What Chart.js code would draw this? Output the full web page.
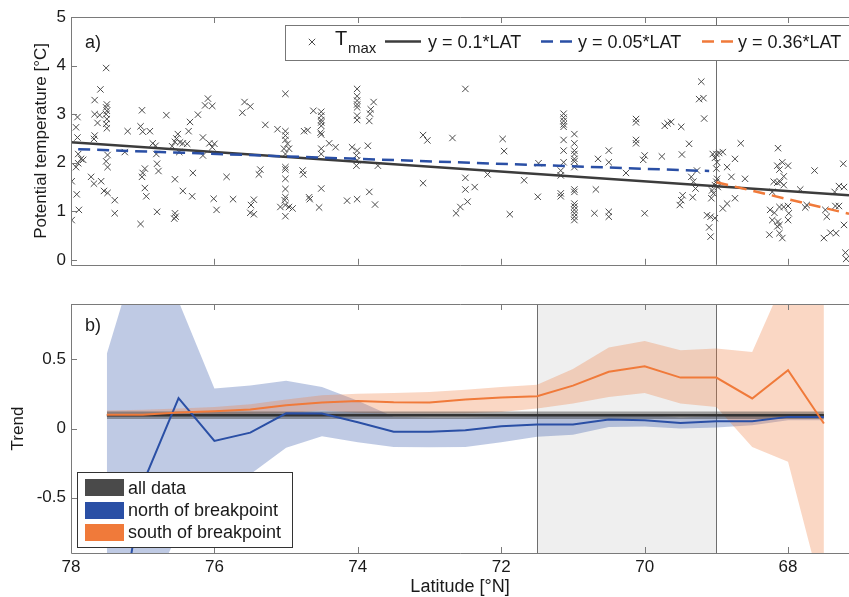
<!DOCTYPE html>
<html>
<head>
<meta charset="utf-8">
<script src="https://cdn.jsdelivr.net/npm/chart.js@4.4.1/dist/chart.umd.min.js"></script>
<style>
html,body{margin:0;padding:0;background:#fff;overflow:hidden;width:849px;height:597px;}
#wrap{position:relative;width:849px;height:597px;}
canvas{position:absolute;left:0;}
#c1{top:0;}
#c2{top:280px;}
#ov{position:absolute;left:0;top:0;pointer-events:none;font-family:"Liberation Sans",Arial,sans-serif;}
</style>
</head>
<body>
<div id="wrap">
<canvas id="c1" width="849" height="280"></canvas>
<canvas id="c2" width="849" height="317"></canvas>
<svg id="ov" width="849" height="597" xmlns="http://www.w3.org/2000/svg">
  <text x="85" y="48" font-size="18" fill="#1a1a1a">a)</text>
  <text x="85" y="331" font-size="18" fill="#1a1a1a">b)</text>
  <rect x="285.5" y="25.5" width="600" height="35" fill="#fff" stroke="#777" stroke-width="1"/>
  <path d="M308.8 38.8 L315.2 45.2 M315.2 38.8 L308.8 45.2" stroke="#4a4a4a" stroke-width="1" fill="none"/>
  <text x="335" y="45" font-size="20" fill="#1a1a1a">T</text>
  <text x="348" y="53" font-size="15" fill="#1a1a1a">max</text>
  <line x1="385" y1="41.5" x2="421" y2="41.5" stroke="#3c3c3c" stroke-width="2.5"/>
  <text x="428" y="48" font-size="18" fill="#1a1a1a">y = 0.1*LAT</text>
  <line x1="541" y1="41.5" x2="575" y2="41.5" stroke="#2a4fa5" stroke-width="2.5" stroke-dasharray="12 7"/>
  <text x="578" y="48" font-size="18" fill="#1a1a1a">y = 0.05*LAT</text>
  <line x1="702" y1="41.5" x2="736" y2="41.5" stroke="#f07a3a" stroke-width="2.5" stroke-dasharray="12 7"/>
  <text x="738" y="48" font-size="18" fill="#1a1a1a">y = 0.36*LAT</text>
  <rect x="77.5" y="472.5" width="215" height="75" fill="#fff" stroke="#333" stroke-width="1"/>
  <rect x="85" y="479" width="39" height="17" fill="#4a4a4a"/>
  <rect x="85" y="502" width="39" height="17" fill="#2a4fa5"/>
  <rect x="85" y="524" width="39" height="17" fill="#f07a3a"/>
  <text x="128" y="494" font-size="18" fill="#1a1a1a">all data</text>
  <text x="128" y="516" font-size="18" fill="#1a1a1a">north of breakpoint</text>
  <text x="128" y="538" font-size="18" fill="#1a1a1a">south of breakpoint</text>
</svg>
</div>
<script>
// ---------- DATA ----------
const xTicks = [78, 76, 74, 72, 70, 68];
const topYTicks = [0, 1, 2, 3, 4, 5];
const botYTicks = [-0.5, 0, 0.5];

const scatterLat = [
77.51,77.59,77.67,76.09,76.13,76.03,77.50,77.51,77.50,77.51,77.50,77.51,77.50,77.67,77.60,77.91,77.01,76.67,76.23,76.34,
77.63,77.93,77.03,77.00,76.90,77.21,76.36,76.51,76.53,77.91,77.67,77.68,76.16,76.86,76.82,76.59,76.55,76.48,76.44,76.38,
76.07,76.00,76.03,77.90,77.86,77.83,77.90,77.93,77.49,77.51,77.49,76.81,77.25,76.49,76.16,76.80,76.78,76.97,77.00,77.01,
76.30,77.99,77.72,77.68,77.58,76.55,77.92,77.54,77.49,77.39,76.97,76.95,76.44,76.31,76.01,75.97,77.89,77.39,76.80,76.55,
76.54,76.56,77.99,77.03,75.83,
75.01,75.58,75.50,75.61,74.01,74.01,74.01,74.01,74.01,74.01,74.01,73.78,73.82,73.83,73.84,74.62,74.51,74.51,74.51,74.51,
74.51,74.52,74.51,75.29,75.12,75.01,75.01,75.01,74.98,75.03,74.96,75.01,74.75,74.70,74.40,74.31,74.51,74.51,74.08,74.01,
74.02,74.01,74.02,73.86,73.72,75.01,75.01,75.01,75.01,75.01,75.02,75.01,75.01,75.08,74.96,74.91,75.36,75.38,74.77,74.76,
75.74,75.45,75.49,75.50,75.45,74.68,74.67,74.51,74.54,74.15,74.01,73.84,73.76,
72.50,73.09,73.03,72.68,71.98,71.96,73.09,72.50,72.50,72.37,72.19,71.68,72.47,72.57,72.63,71.88,
71.13,71.13,71.13,71.13,71.13,71.13,71.13,71.13,71.17,71.17,71.17,71.17,
70.98,70.98,70.98,70.98,70.98,70.98,70.98,70.98,70.98,70.98,70.98,70.98,70.98,70.98,70.98,
71.48,71.49,70.65,70.50,70.50,70.68,70.70,70.50,70.50,70.26,70.12,70.12,70.12,70.12,70.00,70.02,70.00,69.72,69.68,69.63,
69.49,69.76,69.48,69.38,69.47,69.49,69.51,69.33,69.35,
69.21,69.24,69.18,69.17,69.05,69.00,68.96,68.91,69.02,68.99,69.00,68.99,69.00,69.02,68.98,69.06,69.04,69.07,69.13,69.08,
69.02,69.10,69.08,69.27,69.32,69.29,68.74,68.85,68.79,68.60,68.66,68.74,68.85,68.91,68.14,68.15,68.08,68.00,68.12,68.20,
68.15,68.11,68.06,68.22,68.25,68.19,68.12,68.06,68.00,68.22,68.14,68.12,67.99,68.00,68.26,68.12,68.08,68.15,68.06,67.83,
67.74,67.76,67.63,67.48,67.46,67.50,67.41,67.33,67.34,67.29,67.35,67.29,67.22,67.22,67.19,67.23,67.20
];
const scatterTmax = [
3.95,3.51,3.29,3.32,3.18,3.17,3.20,3.14,3.07,3.00,2.90,2.80,2.71,3.00,2.98,2.94,3.08,2.98,2.99,2.84,
2.82,2.73,2.75,2.64,2.65,2.65,2.65,2.59,2.50,2.52,2.56,2.49,2.52,2.40,2.35,2.34,2.43,2.42,2.40,2.39,
2.40,2.39,2.32,2.18,2.08,2.06,1.99,1.91,2.16,2.03,1.91,2.18,2.22,2.22,2.15,1.98,1.83,1.88,1.79,1.71,
1.79,1.62,1.71,1.57,1.62,1.66,1.35,1.42,1.38,1.23,1.48,1.31,1.42,1.31,1.26,1.03,1.03,0.96,0.99,0.96,
0.89,0.85,0.82,0.74,1.71,
3.42,3.25,3.16,3.03,3.52,3.37,3.28,3.20,3.14,2.97,2.88,3.25,3.10,3.01,2.86,3.07,3.05,2.97,2.88,2.83,
2.76,2.62,2.58,2.78,2.69,2.65,2.56,2.47,2.39,2.29,2.29,2.18,2.65,2.67,2.40,2.32,2.29,2.18,2.32,2.25,
2.15,2.05,1.94,2.35,1.94,1.91,1.86,1.67,1.46,1.29,1.23,1.13,0.90,1.09,1.09,1.06,1.86,1.76,1.84,1.76,
1.25,1.24,1.13,0.97,0.94,1.29,1.25,1.47,1.08,1.22,1.25,1.40,1.14,
3.52,2.57,2.46,2.51,2.49,2.24,1.58,1.69,1.45,1.50,1.76,1.64,1.20,1.09,0.96,0.94,
3.01,2.93,2.86,2.79,2.74,2.47,2.25,2.01,1.84,1.74,1.37,1.31,
2.59,2.40,2.25,2.18,2.08,2.03,1.91,1.45,1.40,1.16,1.10,1.03,0.96,0.89,0.82,
1.99,1.30,2.08,2.25,2.01,1.45,0.96,0.99,0.89,1.79,2.90,2.83,2.47,2.40,2.15,2.06,0.96,2.76,2.81,2.84,
2.74,2.13,2.17,2.39,1.33,1.23,1.13,1.29,1.71,
3.67,3.31,3.33,2.91,2.18,2.18,2.20,2.22,2.10,2.01,1.88,1.67,1.61,1.54,1.50,1.43,1.37,1.27,0.92,0.89,
0.86,0.67,0.48,1.84,1.61,1.47,2.08,1.91,1.71,1.67,2.40,1.27,1.16,1.06,2.30,1.94,2.01,1.94,1.86,1.61,
1.59,1.61,1.54,1.40,1.03,0.97,1.09,1.09,1.11,0.82,0.79,0.72,0.96,0.82,0.52,0.55,0.45,0.69,1.72,1.45,
1.13,1.08,1.84,1.03,0.89,0.45,0.56,0.55,1.11,1.11,1.40,1.52,1.50,0.72,0.02,1.98,0.15
];

const fitAllLat = [78, 67.15];
const fitAllT = [2.42, 1.33];
const fitNorthLat = [77.9, 69.1];
const fitNorthT = [2.28, 1.83];
const fitSouthLat = [69.0, 67.15];
const fitSouthT = [1.60, 0.95];
const breakpointLat = 69;
const windowLat = [71.5, 69];

const trendLat  = [77.5,77,76.5,76,75.5,75,74.5,74,73.5,73,72.5,72,71.5,71,70.5,70,69.5,69,68.5,68,67.5];
const allTrend  = [0.095,0.095,0.095,0.095,0.095,0.095,0.095,0.095,0.095,0.095,0.095,0.095,0.095,0.095,0.095,0.095,0.095,0.095,0.095,0.095,0.095];
const allLow    = [0.068,0.068,0.068,0.068,0.068,0.068,0.068,0.068,0.068,0.068,0.068,0.068,0.068,0.068,0.068,0.068,0.068,0.068,0.068,0.068,0.068];
const allHigh   = [0.122,0.122,0.122,0.122,0.122,0.122,0.122,0.122,0.122,0.122,0.122,0.122,0.122,0.122,0.122,0.122,0.122,0.122,0.122,0.122,0.122];
const northTrend= [-2.0,-0.40,0.22,-0.09,-0.03,0.11,0.108,0.045,-0.024,-0.024,-0.012,0.017,0.029,0.029,0.065,0.06,0.04,0.053,0.053,0.084,0.084];
const northLow  = [-3.0,-1.3,-0.75,-0.5,-0.33,-0.14,-0.056,-0.10,-0.133,-0.135,-0.133,-0.10,-0.06,-0.045,0.01,0.015,0.0,0.007,0.024,0.06,0.06];
const northHigh = [0.54,1.4,0.92,0.29,0.31,0.345,0.30,0.20,0.085,0.08,0.08,0.085,0.09,0.09,0.1,0.1,0.08,0.09,0.09,0.1,0.1];
const southTrend= [0.10,0.10,0.115,0.125,0.137,0.168,0.188,0.199,0.19,0.188,0.209,0.224,0.233,0.31,0.41,0.45,0.368,0.368,0.217,0.421,0.036];
const southLow  = [0.085,0.085,0.09,0.10,0.105,0.11,0.13,0.113,0.108,0.108,0.11,0.12,0.144,0.18,0.228,0.257,0.18,0.156,-0.133,-0.24,-1.24];
const southHigh = [0.13,0.135,0.145,0.155,0.175,0.21,0.24,0.252,0.257,0.264,0.281,0.30,0.317,0.43,0.585,0.633,0.565,0.578,0.553,1.14,2.5];

// ---------- HELPERS ----------
const FAMILY = '"Liberation Sans", Arial, sans-serif';
const TXT = '#1a1a1a';
const pts = (xs, ys) => xs.map((v, i) => ({x: v, y: ys[i]}));

const regionPlugin = {
  id: 'region',
  beforeDatasetsDraw(chart, args, opts) {
    const {ctx, chartArea: {top, bottom}, scales: {x}} = chart;
    ctx.save();
    if (opts.shade) {
      const x1 = x.getPixelForValue(opts.shade[0]);
      const x2 = x.getPixelForValue(opts.shade[1]);
      ctx.fillStyle = '#efefef';
      ctx.fillRect(Math.min(x1, x2), top, Math.abs(x2 - x1), bottom - top);
    }
    ctx.strokeStyle = '#6e6e6e';
    ctx.lineWidth = 1;
    for (const v of (opts.lines || [])) {
      const px = Math.round(x.getPixelForValue(v)) + 0.5;
      ctx.beginPath(); ctx.moveTo(px, top); ctx.lineTo(px, bottom); ctx.stroke();
    }
    ctx.restore();
  }
};

const framePlugin = {
  id: 'frame',
  afterDatasetsDraw(chart, args, opts) {
    const {ctx, chartArea: {left, right, top, bottom}, scales: {x, y}} = chart;
    ctx.save();
    ctx.strokeStyle = '#7a7a7a';
    ctx.lineWidth = 1;
    ctx.beginPath();
    for (const v of xTicks) {
      const px = Math.round(x.getPixelForValue(v)) + 0.5;
      ctx.moveTo(px, bottom); ctx.lineTo(px, bottom - 6);
      ctx.moveTo(px, top); ctx.lineTo(px, top + 6);
    }
    for (const v of opts.yTicks) {
      const py = Math.round(y.getPixelForValue(v)) + 0.5;
      ctx.moveTo(left, py); ctx.lineTo(left + 6, py);
    }
    ctx.stroke();
    ctx.beginPath();
    ctx.moveTo(right + 2, Math.round(top) + 0.5);
    ctx.lineTo(Math.round(left) + 0.5, Math.round(top) + 0.5);
    ctx.lineTo(Math.round(left) + 0.5, Math.round(bottom) + 0.5);
    ctx.lineTo(right + 2, Math.round(bottom) + 0.5);
    ctx.stroke();
    ctx.restore();
  }
};

// ---------- TOP CHART ----------
new Chart(document.getElementById('c1'), {
  type: 'scatter',
  data: {
    datasets: [
      {label: 'Tmax', data: pts(scatterLat, scatterTmax), pointStyle: 'crossRot', pointRadius: 4.5,
       borderColor: '#4a4a4a', borderWidth: 1, backgroundColor: 'transparent', order: 4},
      {type: 'line', label: 'y = 0.1*LAT', data: pts(fitAllLat, fitAllT), borderColor: '#3c3c3c',
       borderWidth: 2.5, pointRadius: 0, fill: false, order: 3},
      {type: 'line', label: 'y = 0.05*LAT', data: pts(fitNorthLat, fitNorthT), borderColor: '#2a4fa5',
       borderWidth: 2.5, borderDash: [12, 7], pointRadius: 0, fill: false, order: 2},
      {type: 'line', label: 'y = 0.36*LAT', data: pts(fitSouthLat, fitSouthT), borderColor: '#f07a3a',
       borderWidth: 2.5, borderDash: [12, 7], pointRadius: 0, fill: false, order: 1}
    ]
  },
  options: {
    responsive: false, animation: false, devicePixelRatio: 1,
    layout: {autoPadding: false, padding: {top: 17, right: 0, left: 0, bottom: 0}},
    plugins: {legend: {display: false}, tooltip: {enabled: false},
              region: {lines: [breakpointLat]}, frame: {yTicks: topYTicks}},
    scales: {
      x: {type: 'linear', reverse: true, min: 67.15, max: 78,
          grid: {display: false, drawTicks: false}, border: {display: false},
          ticks: {display: false}, afterFit: s => { s.height = 13; }},
      y: {type: 'linear', min: -0.1, max: 5,
          grid: {display: false, drawTicks: false}, border: {display: false},
          afterBuildTicks: s => { s.ticks = topYTicks.map(v => ({value: v})); },
          ticks: {font: {size: 17, family: FAMILY}, color: TXT, padding: 5, callback: v => String(v)},
          title: {display: true, text: 'Potential temperature [°C]', font: {size: 17, family: FAMILY},
                  color: TXT, padding: {top: 31, bottom: 0}},
          afterFit: s => { s.width = 71; }}
    }
  },
  plugins: [regionPlugin, framePlugin]
});

// ---------- BOTTOM CHART ----------
const band = (ys, color, fill) => ({data: pts(trendLat, ys), borderWidth: 0, pointRadius: 0,
  backgroundColor: color, borderColor: 'transparent', fill: fill});

new Chart(document.getElementById('c2'), {
  type: 'line',
  data: {
    datasets: [
      {label: 'south of breakpoint', data: pts(trendLat, southTrend), borderColor: '#f07a3a', borderWidth: 2, pointRadius: 0, fill: false},
      {label: 'north of breakpoint', data: pts(trendLat, northTrend), borderColor: '#2a4fa5', borderWidth: 2, pointRadius: 0, fill: false},
      {label: 'all data', data: pts(trendLat, allTrend), borderColor: '#333333', borderWidth: 2.5, pointRadius: 0, fill: false},
      band(allHigh, 'rgba(60,60,60,0.45)', '+1'),
      band(allLow, 'transparent', false),
      band(southHigh, 'rgba(240,122,58,0.3)', '+1'),
      band(southLow, 'transparent', false),
      band(northHigh, 'rgba(42,79,165,0.3)', '+1'),
      band(northLow, 'transparent', false)
    ]
  },
  options: {
    responsive: false, animation: false, devicePixelRatio: 1,
    layout: {autoPadding: false, padding: {top: 24, right: 0, left: 0, bottom: 0}},
    plugins: {legend: {display: false}, tooltip: {enabled: false},
              region: {shade: windowLat, lines: windowLat}, frame: {yTicks: botYTicks}},
    scales: {
      x: {type: 'linear', reverse: true, min: 67.15, max: 78,
          grid: {display: false, drawTicks: false}, border: {display: false},
          afterBuildTicks: s => { s.ticks = xTicks.map(v => ({value: v})); },
          ticks: {font: {size: 17, family: FAMILY}, color: TXT, padding: 4, maxRotation: 0, callback: v => String(v)},
          title: {display: true, text: 'Latitude [°N]', font: {size: 18, family: FAMILY}, color: TXT,
                  padding: {top: 0, bottom: -1}},
          afterFit: s => { s.height = 44; }},
      y: {type: 'linear', min: -0.9, max: 0.9,
          grid: {display: false, drawTicks: false}, border: {display: false},
          afterBuildTicks: s => { s.ticks = botYTicks.map(v => ({value: v})); },
          ticks: {font: {size: 17, family: FAMILY}, color: TXT, padding: 5, callback: v => String(v)},
          title: {display: true, text: 'Trend', font: {size: 17, family: FAMILY}, color: TXT,
                  padding: {top: 8, bottom: 0}},
          afterFit: s => { s.width = 71; }}
    }
  },
  plugins: [regionPlugin, framePlugin]
});
</script>
</body>
</html>
